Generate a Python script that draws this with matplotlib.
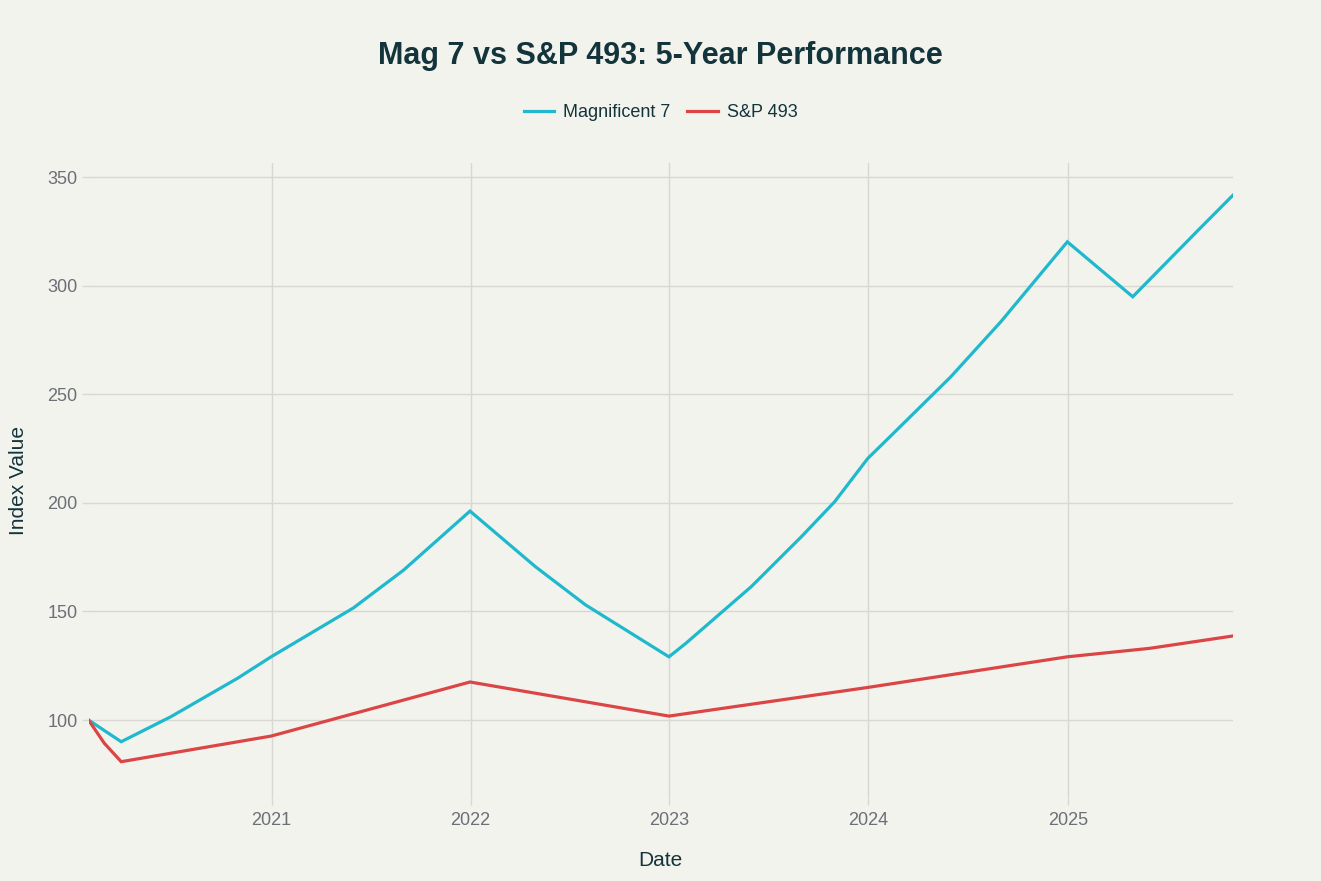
import pandas as pd
import matplotlib.pyplot as plt
import matplotlib.dates as mdates

# ===================================================================
# Data
# ===================================================================

mag7_dates = [
    "2020-01-31", "2020-03-31", "2020-06-30", "2020-10-31", "2020-12-31",
    "2021-05-31", "2021-08-31", "2021-12-31", "2022-04-30", "2022-07-31",
    "2022-12-31", "2023-01-31", "2023-05-31", "2023-08-31", "2023-10-31",
    "2023-12-31", "2024-01-31", "2024-05-31", "2024-08-31", "2024-12-31",
    "2025-04-30", "2025-08-31", "2025-10-31",
]
mag7_values = [
    100.0, 90.0, 101.5, 119.3, 129.1,
    151.6, 169.0, 196.2, 170.6, 153.0,
    129.1, 135.3, 161.4, 184.4, 200.5,
    220.5, 228.1, 258.0, 283.4, 320.2,
    294.9, 326.3, 341.7,
]

sp493_dates = [
    "2020-01-31", "2020-02-29", "2020-03-31", "2020-12-31", "2021-12-31",
    "2022-12-31", "2023-12-31", "2024-12-31", "2025-05-31", "2025-10-31",
]
sp493_values = [
    100.0, 89.3, 80.8, 92.6, 117.5,
    101.8, 115.0, 129.1, 133.0, 138.7,
]

year_ticks = ["2021-01-01", "2022-01-01", "2023-01-01", "2024-01-01", "2025-01-01"]
y_ticks = [100, 150, 200, 250, 300, 350]

# ===================================================================
# Style
# ===================================================================

BG = "#f3f3ee"
GRID = "#d8d8d3"
TICK_TEXT = "#6b6f76"
DARK = "#13343b"
CYAN = "#1fb8cd"
RED = "#db4545"

plt.rcParams["font.family"] = ["Liberation Sans", "DejaVu Sans"]

fig = plt.figure(figsize=(13.21, 8.81), dpi=100, facecolor=BG)
ax = fig.add_axes([0.067, 0.094, 0.8664, 0.721], facecolor=BG)

ax.plot(pd.to_datetime(mag7_dates), mag7_values, color=CYAN, lw=2.3,
        label="Magnificent 7", solid_joinstyle="miter")
ax.plot(pd.to_datetime(sp493_dates), sp493_values, color=RED, lw=2.3,
        label="S&P 493", solid_joinstyle="miter")

ax.set_xlim(pd.Timestamp(mag7_dates[0]), pd.Timestamp(mag7_dates[-1]))
ax.set_ylim(64, 356.5)

ax.set_xticks(pd.to_datetime(year_ticks))
ax.xaxis.set_major_formatter(mdates.DateFormatter("%Y"))
ax.set_yticks(y_ticks)

ax.grid(True, color=GRID, lw=1)
ax.set_axisbelow(True)
for s in ax.spines.values():
    s.set_visible(False)
ax.tick_params(axis="both", colors=GRID, labelcolor=TICK_TEXT, labelsize=13,
               length=5, width=1)
ax.tick_params(axis="x", pad=5)
ax.tick_params(axis="y", pad=3)

ax.set_xlabel("Date", fontsize=15, color=DARK, labelpad=16)
ax.set_ylabel("Index Value", fontsize=15, color=DARK, labelpad=14)

fig.text(0.5, 0.937, "Mag 7 vs S&P 493: 5-Year Performance", ha="center",
         va="center", fontsize=22, fontweight="bold", color=DARK)

fig.legend(loc="center", bbox_to_anchor=(0.5, 0.872), ncol=2, frameon=False,
           fontsize=13, labelcolor=DARK, handlelength=1.7, handletextpad=0.5,
           columnspacing=0.9)

fig.savefig("out.png", dpi=100, facecolor=BG)
